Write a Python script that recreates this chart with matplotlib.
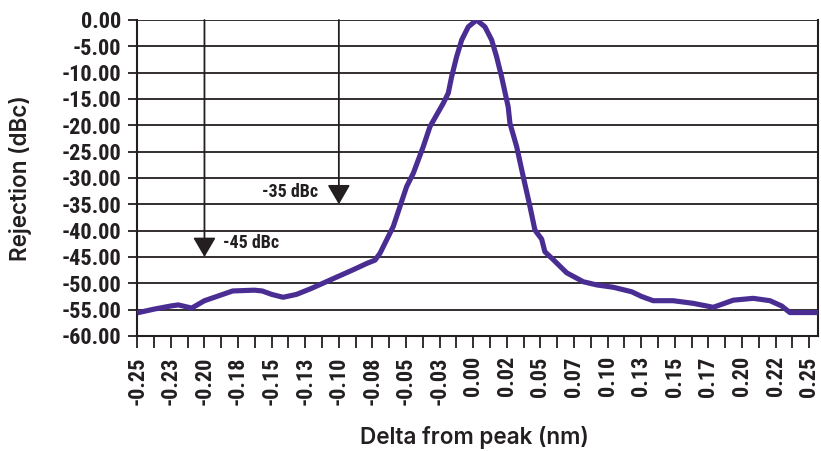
import matplotlib
matplotlib.use("Agg")
import matplotlib.pyplot as plt

# wavelength offset from peak (nm) and rejection (dBc)
delta_nm = [-0.250, -0.2375, -0.225, -0.2195, -0.2095, -0.200, -0.1875, -0.179,
            -0.163, -0.157, -0.150, -0.1415, -0.1315, -0.1203, -0.105, -0.090,
            -0.079, -0.0731, -0.0694, -0.0595, -0.0496, -0.0446, -0.0372, -0.0322,
            -0.0223, -0.0186, -0.0161, -0.0124, -0.0086, -0.0037, 0.0025, 0.0087,
            0.0137, 0.0174, 0.0211, 0.0260, 0.0273, 0.0323, 0.0372, 0.0422,
            0.0459, 0.0509, 0.0533, 0.0595, 0.0695, 0.0819, 0.0918, 0.1042,
            0.1179, 0.1253, 0.1339, 0.1488, 0.1637, 0.1786, 0.1836, 0.1935,
            0.2083, 0.2208, 0.2295, 0.2356, 0.2565]
rejection = [-55.6, -54.9, -54.3, -54.1, -54.7, -53.3, -52.2, -51.45,
             -51.3, -51.45, -52.1, -52.65, -52.1, -50.95, -49.2, -47.5,
             -46.2, -45.6, -44.3, -39.2, -31.65, -29.1, -24.05, -20.25,
             -15.8, -13.9, -10.8, -7.0, -3.8, -1.3, 0.0, -1.3,
             -3.8, -7.0, -10.8, -16.5, -19.6, -24.05, -29.75, -35.4,
             -39.9, -41.6, -44.0, -45.5, -48.0, -49.7, -50.3, -50.75,
             -51.6, -52.5, -53.3, -53.3, -53.8, -54.55, -54.1, -53.2,
             -52.85, -53.3, -54.3, -55.55, -55.55]

xtick_pos = [-0.25 + 0.025 * i for i in range(21)]
xtick_labels = ['-0.25', '-0.23', '-0.20', '-0.18', '-0.15', '-0.13', '-0.10',
                '-0.08', '-0.05', '-0.03', '0.00', '0.02', '0.05', '0.07',
                '0.10', '0.13', '0.15', '0.17', '0.20', '0.22', '0.25']
minor_pos = [-0.2375 + 0.025 * i for i in range(20)]
ytick_pos = list(range(0, -65, -5))
ytick_labels = ['%.2f' % v for v in ytick_pos]

# markers: (x of arrow, level it points to, text, text x, text y, alignment)
markers = [(-0.20, -45, '-45 dBc', -0.1862, -42.3, 'left'),
           (-0.10, -35, '-35 dBc', -0.1155, -32.7, 'right')]

plt.rcParams['axes.unicode_minus'] = False
tick_font = ['Roboto Condensed', 'DejaVu Sans']
title_font = ['Inter', 'Roboto', 'DejaVu Sans']

fig = plt.figure(figsize=(8.21, 4.51), dpi=100)
ax = fig.add_axes([0.1672, 0.255, 0.8291, 0.7007])

ink = '#231f20'
for y in ytick_pos:
    ax.axhline(y, color=ink, lw=1.3, zorder=1)

ax.plot(delta_nm, rejection, color='#4a2d93', lw=3.7, solid_capstyle='butt',
        solid_joinstyle='round', zorder=4)

for xa, lvl, txt, tx, ty, ha in markers:
    ax.annotate('', xy=(xa, lvl), xytext=(xa, 0),
                arrowprops=dict(arrowstyle='-|>,head_length=12,head_width=7',
                                mutation_scale=1, color=ink, lw=1.3,
                                shrinkA=0, shrinkB=0), zorder=3)
    ax.text(tx, ty, txt, ha=ha, va='center', fontsize=13,
            fontweight='bold', family=tick_font, color=ink)

ax.set_xlim(-0.25, 0.2565)
ax.set_ylim(-60, 0)

ax.set_xticks(xtick_pos)
ax.set_xticklabels(xtick_labels, rotation=90, fontsize=16, fontweight='bold',
                   family=tick_font, color=ink)
ax.set_xticks(minor_pos, minor=True)
ax.set_yticks(ytick_pos)
ax.set_yticklabels(ytick_labels, fontsize=16, fontweight='bold',
                   family=tick_font, color=ink)

ax.tick_params(axis='x', which='both', direction='out', length=8.5, width=1.3,
               color=ink, pad=6)
ax.tick_params(axis='y', direction='out', length=6.5, width=1.3, color=ink, pad=5)

for side in ['left', 'right', 'bottom']:
    ax.spines[side].set_color(ink)
    ax.spines[side].set_linewidth(1.5)
ax.spines['top'].set_visible(False)

ax.set_xlabel('Delta from peak (nm)', fontsize=16.2, fontweight='semibold',
              family=title_font, color=ink, va='center')
ax.xaxis.set_label_coords(0.4955, -0.32)
ax.set_ylabel('Rejection (dBc)', fontsize=16.2, fontweight='semibold',
              family=title_font, color=ink, va='center')
ax.yaxis.set_label_coords(-0.172, 0.5)

fig.savefig('out.png', dpi=100)
